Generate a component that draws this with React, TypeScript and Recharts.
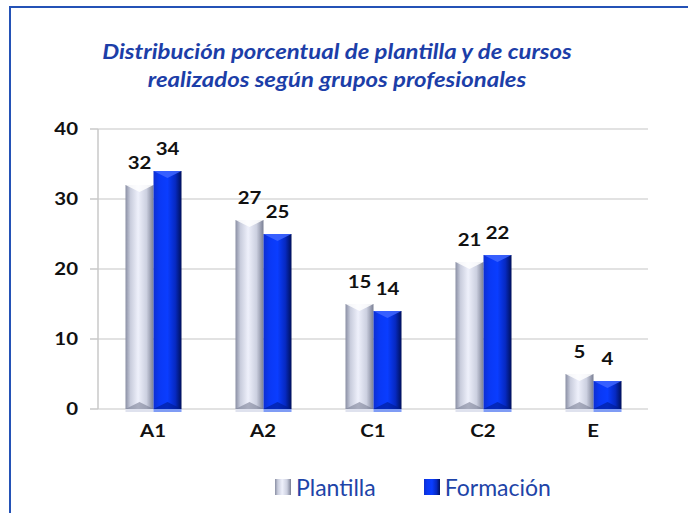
import { Bar, BarChart, CartesianGrid, LabelList, XAxis, YAxis } from "recharts";

const grupos = ["A1", "A2", "C1", "C2", "E"];
const plantilla = [32, 27, 15, 21, 5];
const formacion = [34, 25, 14, 22, 4];
const yTicks = [0, 10, 20, 30, 40];

const titleLines = [
  "Distribución porcentual de plantilla y de cursos",
  "realizados según grupos profesionales",
];

const data = grupos.map((g, i) => ({
  grupo: g,
  plantilla: plantilla[i],
  formacion: formacion[i],
}));

const FONT = "Lato, 'Noto Sans', sans-serif";
// the original text is a bit stretched sideways
const STRETCH = 1.2;

// bar with a bit of a bevel, like the old excel 3d look
const BevelBar = (props: any) => {
  const { x, y, width, height, gradId, top, bottom, under } = props;
  if (!height || height <= 0) return null;
  const b = Math.min(7, height / 2);
  return (
    <g>
      <rect x={x} y={y} width={width} height={height} fill={`url(#${gradId})`} />
      <polygon
        points={`${x},${y} ${x + width},${y} ${x + width / 2},${y + b}`}
        fill={top}
        opacity={0.85}
      />
      <polygon
        points={`${x},${y + height} ${x + width},${y + height} ${x + width / 2},${y + height - b}`}
        fill={bottom}
        opacity={0.6}
      />
      <rect x={x} y={y + height} width={width} height={3} fill={under} />
    </g>
  );
};

const StretchText = ({ x, y, anchor, dy, children }: any) => (
  <g transform={`translate(${x},${y})`}>
    <text
      transform={`scale(${STRETCH},1)`}
      textAnchor={anchor}
      dy={dy}
      fill="#111"
      fontSize={17}
      fontWeight={700}
      fontFamily={FONT}
    >
      {children}
    </text>
  </g>
);

const XTick = ({ x, y, payload }: any) => (
  <StretchText x={x} y={y} anchor="middle" dy="0.71em">
    {payload.value}
  </StretchText>
);

const YTick = ({ x, y, payload }: any) => (
  <StretchText x={x} y={y} anchor="end" dy="0.355em">
    {payload.value}
  </StretchText>
);

const ValueLabel = ({ x, y, width, value }: any) => (
  <StretchText x={x + width / 2} y={y - 16} anchor="middle" dy="0">
    {value}
  </StretchText>
);

const LegendIcon = ({ gradId }: { gradId: string }) => (
  <svg width={16} height={16} style={{ marginRight: 5 }}>
    <rect x={0} y={0} width={16} height={16} fill={`url(#${gradId})`} />
  </svg>
);

export default function App() {
  return (
    <div
      style={{
        position: "absolute",
        left: 0,
        top: 0,
        width: 688,
        height: 513,
        background: "#ffffff",
        overflow: "hidden",
      }}
    >
      <div
        style={{
          position: "absolute",
          left: 9,
          top: 6,
          width: 700,
          height: 540,
          borderTop: "2px solid #2452b6",
          borderLeft: "2px solid #2452b6",
        }}
      />
      <div
        style={{
          position: "absolute",
          left: 0,
          top: 37,
          width: 674,
          textAlign: "center",
          fontFamily: FONT,
          fontStyle: "italic",
          fontWeight: 700,
          fontSize: 21,
          lineHeight: "28px",
          color: "#1c3ea8",
          transform: "scaleX(1.14)",
          transformOrigin: "337px 0",
        }}
      >
        {titleLines.map((t) => (
          <div key={t}>{t}</div>
        ))}
      </div>

      <svg width={0} height={0} style={{ position: "absolute" }}>
        <defs>
          <linearGradient id="gradP" x1="0" y1="0" x2="1" y2="0">
            <stop offset="0%" stopColor="#8a8fa4" />
            <stop offset="18%" stopColor="#c9cddd" />
            <stop offset="45%" stopColor="#eef0fb" />
            <stop offset="75%" stopColor="#ccd0e0" />
            <stop offset="100%" stopColor="#7a7f94" />
          </linearGradient>
          <linearGradient id="gradF" x1="0" y1="0" x2="1" y2="0">
            <stop offset="0%" stopColor="#0d2fd0" />
            <stop offset="20%" stopColor="#0a38f4" />
            <stop offset="50%" stopColor="#0a3dff" />
            <stop offset="78%" stopColor="#0629c2" />
            <stop offset="100%" stopColor="#00105a" />
          </linearGradient>
        </defs>
      </svg>

      <div style={{ position: "absolute", left: 0, top: 0 }}>
        <BarChart
          width={688}
          height={513}
          data={data}
          margin={{ top: 129, right: 40, bottom: 74, left: 0 }}
          barCategoryGap="25%"
          barGap={0}
        >
          <CartesianGrid vertical={false} stroke="#d9d9d9" strokeWidth={1.5} />
          <XAxis
            dataKey="grupo"
            axisLine={false}
            tickLine={false}
            tickSize={0}
            tickMargin={16}
            tick={<XTick />}
          />
          <YAxis
            width={98}
            domain={[0, 40]}
            ticks={yTicks}
            axisLine={{ stroke: "#c8c8c8", strokeWidth: 1.5 }}
            tickLine={{ stroke: "#c8c8c8", strokeWidth: 1.5 }}
            tickSize={8}
            tickMargin={12}
            tick={<YTick />}
          />
          <Bar
            dataKey="plantilla"
            name="Plantilla"
            isAnimationActive={false}
            shape={(p: any) => (
              <BevelBar {...p} gradId="gradP" top="#ffffff" bottom="#7c8196" under="#dfe2ee" />
            )}
          >
            <LabelList dataKey="plantilla" content={<ValueLabel />} />
          </Bar>
          <Bar
            dataKey="formacion"
            name="Formación"
            isAnimationActive={false}
            shape={(p: any) => (
              <BevelBar {...p} gradId="gradF" top="#3f66ff" bottom="#001a90" under="#7f9cf5" />
            )}
          >
            <LabelList dataKey="formacion" content={<ValueLabel />} />
          </Bar>
        </BarChart>
      </div>

      <div
        style={{
          position: "absolute",
          left: 275,
          top: 473,
          display: "flex",
          alignItems: "center",
          fontFamily: FONT,
          fontSize: 23,
          color: "#1e44a8",
        }}
      >
        <span style={{ display: "flex", alignItems: "center", marginRight: 48 }}>
          <LegendIcon gradId="gradP" />
          Plantilla
        </span>
        <span style={{ display: "flex", alignItems: "center" }}>
          <LegendIcon gradId="gradF" />
          Formación
        </span>
      </div>
    </div>
  );
}
